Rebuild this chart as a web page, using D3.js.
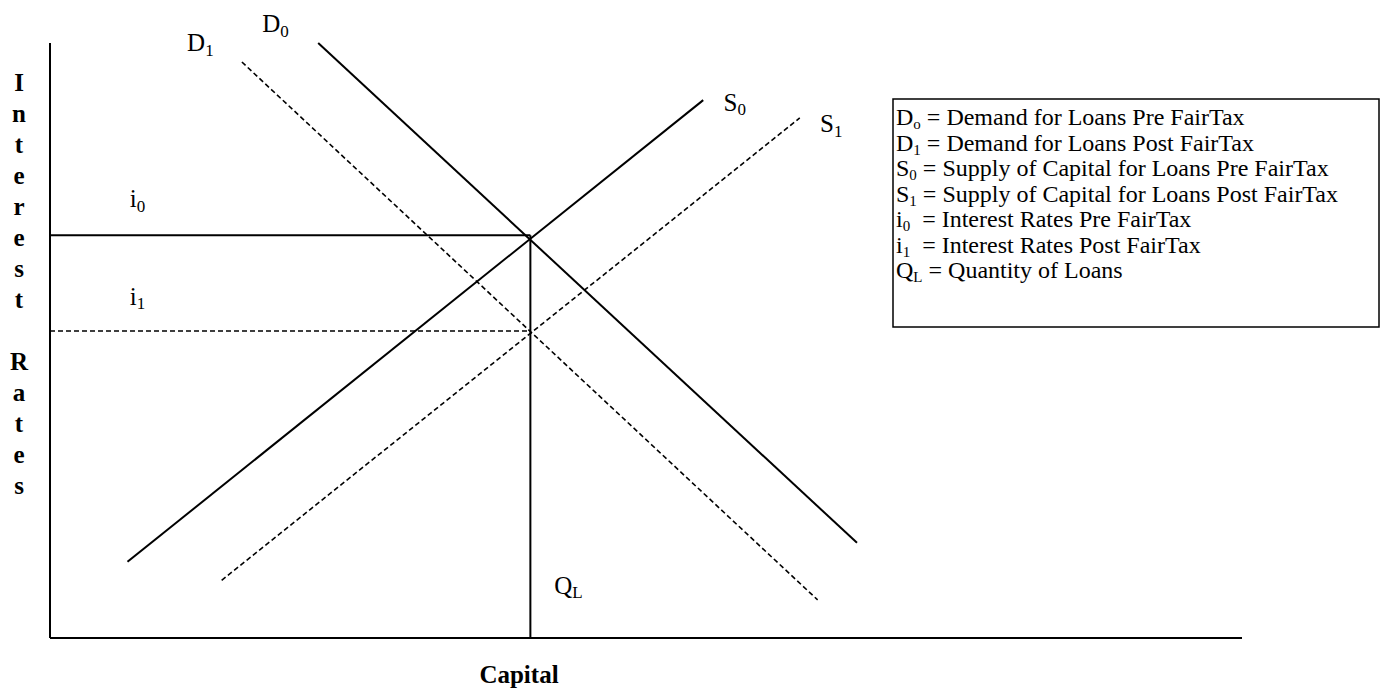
<!DOCTYPE html>
<html>
<head>
<meta charset="utf-8">
<script src="https://cdn.jsdelivr.net/npm/d3@7"></script>
<style>
  html, body { margin: 0; padding: 0; background: #fff; }
  svg { display: block; }
  text { font-family: "Liberation Serif", "Times New Roman", serif; fill: #000; }
</style>
</head>
<body>
<svg id="chart" width="1381" height="690"></svg>
<script>
// ---- Data (in abstract chart units: capital 0..100, interest 0..100) ----
const curveNames = ["D0", "D1", "S0", "S1"];
const curveDashed = [false, true, false, true];
const curveStart = [[22.5, 100.0], [16.1, 96.8], [6.5, 12.8], [14.4, 9.7]];
const curveEnd   = [[67.7, 16.0], [64.4, 6.4], [54.8, 90.4], [62.9, 87.4]];
const curveLabelBase = ["D", "D", "S", "S"];
const curveLabelSub = ["0", "1", "0", "1"];
const curveLabelPos = [[17.8, 101.8], [11.5, 98.6], [56.5, 88.6], [64.6, 85.0]];

const rateNames = ["i0", "i1"];
const rateValues = [67.7, 51.6];
const rateDashed = [false, true];
const rateLabelPos = [[6.7, 72.4], [6.7, 56.0]];

const quantityValue = 40.3;
const quantityLabelPos = [42.3, 7.4];

const yAxisTitle = ["I","n","t","e","r","e","s","t","","R","a","t","e","s"];
const xAxisTitle = "Capital";

const legendItems = [
  ["D", "o", " = Demand for Loans Pre FairTax"],
  ["D", "1", " = Demand for Loans Post FairTax"],
  ["S", "0", " = Supply of Capital for Loans Pre FairTax"],
  ["S", "1", " = Supply of Capital for Loans Post FairTax"],
  ["i", "0", "  = Interest Rates Pre FairTax"],
  ["i", "1", "  = Interest Rates Post FairTax"],
  ["Q", "L", " = Quantity of Loans"]
];

// ---- Layout ----
const svg = d3.select("#chart");
const x = d3.scaleLinear().domain([0, 100]).range([50, 1242]);
const y = d3.scaleLinear().domain([0, 100]).range([638, 43]);

// Axes (plain lines, no ticks)
svg.append("line").attr("x1", x(0)).attr("x2", x(0)).attr("y1", y(100)).attr("y2", y(0))
  .attr("stroke", "#000").attr("stroke-width", 2);
svg.append("line").attr("x1", x(0)).attr("x2", x(100)).attr("y1", y(0)).attr("y2", y(0))
  .attr("stroke", "#000").attr("stroke-width", 2);

// Interest rate horizontal lines
rateValues.forEach((v, i) => {
  svg.append("line")
    .attr("x1", x(0)).attr("x2", x(quantityValue))
    .attr("y1", y(v)).attr("y2", y(v))
    .attr("stroke", "#000").attr("stroke-width", rateDashed[i] ? 1.5 : 2)
    .attr("stroke-dasharray", rateDashed[i] ? "5,3" : null);
});

// Quantity vertical line
svg.append("line")
  .attr("x1", x(quantityValue)).attr("x2", x(quantityValue))
  .attr("y1", y(rateValues[0])).attr("y2", y(0))
  .attr("stroke", "#000").attr("stroke-width", 2);

// Curves
const lineGen = d3.line().x(d => x(d[0])).y(d => y(d[1]));
curveNames.forEach((n, i) => {
  svg.append("path")
    .attr("d", lineGen([curveStart[i], curveEnd[i]]))
    .attr("fill", "none").attr("stroke", "#000")
    .attr("stroke-width", curveDashed[i] ? 1.6 : 2)
    .attr("stroke-dasharray", curveDashed[i] ? "5,3" : null);
});

function subLabel(g, px, py, base, sub, size) {
  const t = g.append("text").attr("x", px).attr("y", py).style("font-size", size + "px");
  t.append("tspan").text(base);
  t.append("tspan").attr("dy", size * 0.18).style("font-size", (size * 0.68) + "px").text(sub);
  return t;
}

// Curve labels
curveNames.forEach((n, i) => {
  subLabel(svg, x(curveLabelPos[i][0]), y(curveLabelPos[i][1]), curveLabelBase[i], curveLabelSub[i], 25);
});
// Rate labels
rateNames.forEach((n, i) => {
  subLabel(svg, x(rateLabelPos[i][0]), y(rateLabelPos[i][1]), "i", n.slice(1), 25);
});
// Quantity label
subLabel(svg, x(quantityLabelPos[0]), y(quantityLabelPos[1]), "Q", "L", 25);

// Y axis title: vertical stacked letters
yAxisTitle.forEach((ch, i) => {
  if (!ch) return;
  svg.append("text").attr("x", 19).attr("y", 91 + i * 31)
    .attr("text-anchor", "middle")
    .style("font-size", "25px").style("font-weight", "bold").text(ch);
});

// X axis title
svg.append("text").attr("x", 519).attr("y", 683).attr("text-anchor", "middle")
  .style("font-size", "25px").style("font-weight", "bold").text(xAxisTitle);

// Legend box
svg.append("rect").attr("x", 893).attr("y", 99).attr("width", 486).attr("height", 228)
  .attr("fill", "none").attr("stroke", "#000").attr("stroke-width", 1.5);
const lg = svg.append("g");
legendItems.forEach((it, i) => {
  const t = lg.append("text").attr("x", 896).attr("y", 125 + i * 25.5)
    .style("font-size", "24px").attr("xml:space", "preserve");
  t.append("tspan").text(it[0]);
  t.append("tspan").attr("dy", 4).style("font-size", "15px").text(it[1]);
  t.append("tspan").attr("dy", -4).style("white-space", "pre").text(it[2]);
});
</script>
</body>
</html>
